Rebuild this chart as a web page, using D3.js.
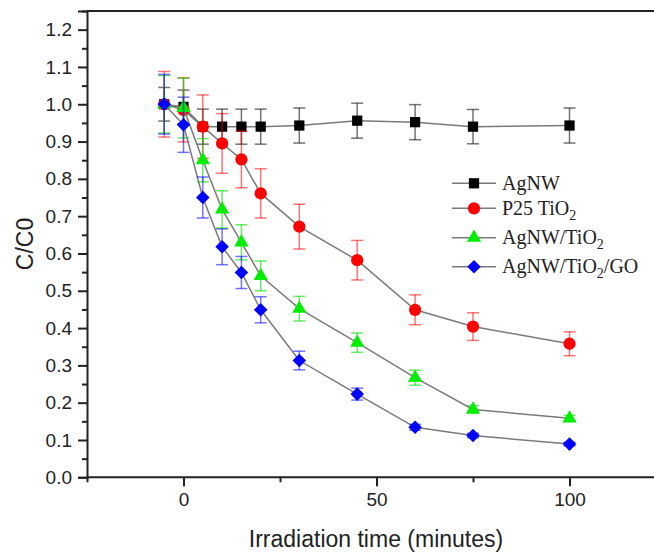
<!DOCTYPE html>
<html>
<head>
<meta charset="utf-8">
<script src="https://cdn.jsdelivr.net/npm/d3@7"></script>
<style>
  html, body { margin: 0; padding: 0; background: #fff; }
  svg { display: block; }
</style>
</head>
<body>
<svg id="chart" width="654" height="552"></svg>
<script>
// ---- data ----
const times = [-5, 0, 5, 10, 15, 20, 30, 45, 60, 75, 100];
const agnw      = [1.000, 0.993, 0.940, 0.940, 0.940, 0.940, 0.943, 0.956, 0.952, 0.940, 0.943];
const agnwErr   = [0.045, 0.045, 0.047, 0.047, 0.047, 0.047, 0.047, 0.047, 0.047, 0.046, 0.047];
const p25       = [1.000, 0.985, 0.940, 0.895, 0.852, 0.761, 0.672, 0.582, 0.449, 0.404, 0.358];
const p25Err    = [0.088, 0.086, 0.085, 0.080, 0.076, 0.066, 0.060, 0.053, 0.040, 0.037, 0.032];
const agnwTi    = [1.000, 0.990, 0.850, 0.718, 0.630, 0.540, 0.452, 0.361, 0.267, 0.182, 0.158];
const agnwTiErr = [0.077, 0.080, 0.058, 0.050, 0.047, 0.040, 0.033, 0.026, 0.020, 0.010, 0.008];
const agnwGo    = [1.000, 0.945, 0.750, 0.618, 0.549, 0.449, 0.313, 0.223, 0.134, 0.112, 0.089];
const agnwGoErr = [0.080, 0.074, 0.055, 0.048, 0.043, 0.035, 0.025, 0.016, 0.008, 0.006, 0.005];
const seriesNames = ["AgNW", "P25 TiO|2", "AgNW/TiO|2", "AgNW/TiO|2|/GO"];
const xTickLabels = [0, 50, 100];
const yTickLabels = [0.0, 0.1, 0.2, 0.3, 0.4, 0.5, 0.6, 0.7, 0.8, 0.9, 1.0, 1.1, 1.2];

// ---- layout ----
const svg = d3.select("#chart");
const plotLeft = 87, plotTop = 11, plotBottom = 477.3;
const x = d3.scaleLinear().domain([-25, 125]).range([plotLeft, plotLeft + 150 * 3.86]);
const y = d3.scaleLinear().domain([0, 1.25]).range([plotBottom, plotTop]);

const series = [
  { vals: agnw,    err: agnwErr,   color: "#000000", errColor: "rgba(0,0,0,0.55)",  shape: "square" },
  { vals: p25,     err: p25Err,    color: "#ff0000", errColor: "rgba(255,0,0,0.55)", shape: "circle" },
  { vals: agnwTi,  err: agnwTiErr, color: "#00ee00", errColor: "rgba(0,220,0,0.6)",  shape: "triangle" },
  { vals: agnwGo,  err: agnwGoErr, color: "#0000ff", errColor: "rgba(0,0,255,0.55)", shape: "diamond" }
];

function symbolPath(shape) {
  if (shape === "square") return d3.symbol(d3.symbolSquare, 105)();
  if (shape === "circle") return d3.symbol(d3.symbolCircle, 118)();
  if (shape === "triangle") return d3.symbol(d3.symbolTriangle, 88)();
  return d3.symbol(d3.symbolSquare, 92)();
}
function symbolTransform(shape, px, py) {
  return shape === "diamond" ? `translate(${px},${py}) rotate(45)` : `translate(${px},${py})`;
}

// ---- frame ----
svg.append("line").attr("x1", plotLeft).attr("x2", 680).attr("y1", plotTop).attr("y2", plotTop)
  .attr("stroke", "#222").attr("stroke-width", 2);

// axes
const tickFont = "'Liberation Sans', Arial, sans-serif";
const xAxis = svg.append("g").attr("transform", `translate(0,${plotBottom})`)
  .call(d3.axisBottom(x).tickValues(xTickLabels).tickSize(9).tickPadding(6).tickFormat(d3.format("d")));
const xMinor = svg.append("g").attr("transform", `translate(0,${plotBottom})`)
  .call(d3.axisBottom(x).tickValues([-25, 25, 75, 125]).tickSize(5).tickFormat(""));
const yAxis = svg.append("g").attr("transform", `translate(${plotLeft},0)`)
  .call(d3.axisLeft(y).tickValues(yTickLabels).tickSize(9).tickPadding(6).tickFormat(d3.format(".1f")));
const yMinor = svg.append("g").attr("transform", `translate(${plotLeft},0)`)
  .call(d3.axisLeft(y).tickValues(d3.range(0.05, 1.26, 0.1)).tickSize(5).tickFormat(""));

[xAxis, xMinor, yAxis, yMinor].forEach(g => {
  g.select(".domain").attr("stroke", "#222").attr("stroke-width", 2);
  g.selectAll(".tick line").attr("stroke", "#222").attr("stroke-width", 2);
  g.selectAll(".tick text").attr("font-family", tickFont).attr("font-size", 19).attr("fill", "#222");
});
xMinor.select(".domain").remove();
yMinor.select(".domain").remove();
xAxis.select(".domain").attr("d", `M${plotLeft},0H680`);

// axis titles
svg.append("text").attr("x", 376).attr("y", 547).attr("text-anchor", "middle")
  .attr("font-family", tickFont).attr("font-size", 23).attr("fill", "#222")
  .text("Irradiation time (minutes)");
svg.append("text").attr("transform", "translate(33,244) rotate(-90)").attr("text-anchor", "middle")
  .attr("font-family", tickFont).attr("font-size", 23).attr("fill", "#222")
  .text("C/C0");

// ---- series ----
const line = d3.line().x((d, i) => x(times[i])).y(d => y(d));
series.forEach(s => {
  const g = svg.append("g");
  g.append("path").datum(s.vals).attr("d", line)
    .attr("fill", "none").attr("stroke", "#7a7a7a").attr("stroke-width", 1.5);
  const eb = g.append("g").selectAll("g").data(s.vals).join("g");
  eb.append("line")
    .attr("x1", (d, i) => x(times[i])).attr("x2", (d, i) => x(times[i]))
    .attr("y1", (d, i) => y(d + s.err[i])).attr("y2", (d, i) => y(d - s.err[i]))
    .attr("stroke", s.errColor).attr("stroke-width", 1.5);
  [1, -1].forEach(sign => {
    eb.append("line")
      .attr("x1", (d, i) => x(times[i]) - 6).attr("x2", (d, i) => x(times[i]) + 6)
      .attr("y1", (d, i) => y(d + sign * s.err[i])).attr("y2", (d, i) => y(d + sign * s.err[i]))
      .attr("stroke", s.errColor).attr("stroke-width", 1.5);
  });
  g.append("g").selectAll("path").data(s.vals).join("path")
    .attr("d", symbolPath(s.shape))
    .attr("transform", (d, i) => symbolTransform(s.shape, x(times[i]), y(d)))
    .attr("fill", s.color);
});

// ---- legend ----
const legendRows = [183.3, 208.3, 237.7, 266.7];
const legend = svg.append("g");
series.forEach((s, k) => {
  const cy = legendRows[k];
  legend.append("line").attr("x1", 452).attr("x2", 496).attr("y1", cy).attr("y2", cy)
    .attr("stroke", "#7a7a7a").attr("stroke-width", 1.5);
  legend.append("path").attr("d", symbolPath(s.shape))
    .attr("transform", symbolTransform(s.shape, 474, cy)).attr("fill", s.color);
  const t = legend.append("text").attr("x", 502).attr("y", cy + 6.5)
    .attr("font-family", "'Liberation Serif', 'Times New Roman', serif")
    .attr("font-size", 20).attr("fill", "#222");
  const parts = seriesNames[k].split("|");
  parts.forEach((p, j) => {
    const isSub = j % 2 === 1;
    const ts = t.append("tspan").text(p);
    if (isSub) ts.attr("font-size", 14).attr("dy", 5);
    else if (j > 0) ts.attr("dy", -5);
  });
});
</script>
</body>
</html>
